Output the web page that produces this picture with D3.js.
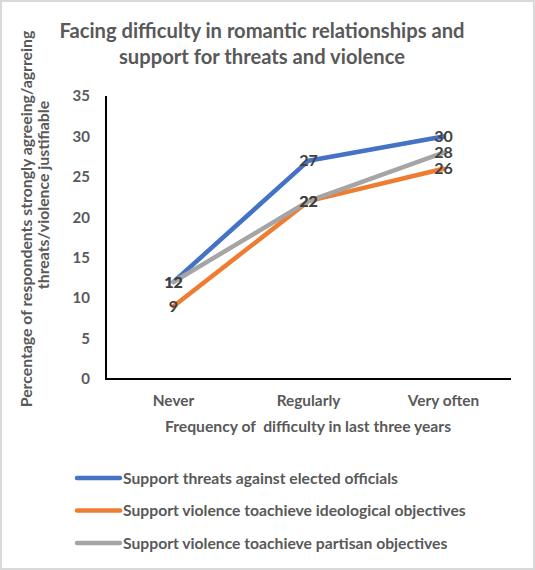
<!DOCTYPE html>
<html>
<head>
<meta charset="utf-8">
<script src="https://cdn.jsdelivr.net/npm/d3@7"></script>
<style>
  body { margin: 0; background: #fff; }
  svg text { font-family: Lato, "Open Sans", sans-serif; font-weight: bold; }
</style>
</head>
<body>
<svg id="chart" width="535" height="570"></svg>
<script>
"use strict";

var categories = ["Never", "Regularly", "Very often"];
var seriesNames = [
  "Support threats against elected officials",
  "Support violence toachieve ideological objectives",
  "Support violence toachieve partisan objectives"
];
var threatsValues = [12, 27, 30];
var ideologicalValues = [9, 22, 26];
var partisanValues = [12, 22, 28];
var seriesColors = ["#4472C4", "#ED7D31", "#A5A5A5"];
var yTicks = [0, 5, 10, 15, 20, 25, 30, 35];

var titleLines = ["Facing difficulty in romantic relationships and", "support for threats and violence"];
var yTitleLines = ["Percentage of respondents strongly agreeing/agrreing", "threats/violence justifiable"];
var xTitle = "Frequency of  difficulty in last three years";

var TEXT_COLOR = "#595959";
var LABEL_COLOR = "#404040";

var svg = d3.select("#chart");

// outer frame
svg.append("rect")
  .attr("x", 1).attr("y", 1)
  .attr("width", 533).attr("height", 568)
  .attr("fill", "#fff")
  .attr("stroke", "#d9d9d9")
  .attr("stroke-width", 2);

svg.selectAll("text.title")
  .data(titleLines)
  .enter()
  .append("text")
  .attr("class", "title")
  .attr("x", 262)
  .attr("y", function (d, i) { return 38 + i * 26; })
  .attr("text-anchor", "middle")
  .attr("font-size", 20.2)
  .attr("fill", TEXT_COLOR)
  .text(function (d) { return d; });

var x = d3.scalePoint().domain(categories).range([106, 511]).padding(0.5);
var y = d3.scaleLinear().domain([0, 35]).range([379, 96]);

// y tick labels
svg.append("g")
  .selectAll("text")
  .data(yTicks)
  .enter()
  .append("text")
  .attr("x", 90)
  .attr("y", function (d) { return y(d); })
  .attr("dy", "0.35em")
  .attr("text-anchor", "end")
  .attr("font-size", 15)
  .attr("fill", TEXT_COLOR)
  .text(function (d) { return d; });

// category labels
svg.append("g")
  .selectAll("text")
  .data(categories)
  .enter()
  .append("text")
  .attr("x", function (d) { return x(d); })
  .attr("y", 406)
  .attr("text-anchor", "middle")
  .attr("font-size", 15.4)
  .attr("fill", TEXT_COLOR)
  .text(function (d) { return d; });

svg.append("text")
  .attr("x", 308)
  .attr("y", 432)
  .attr("text-anchor", "middle")
  .attr("font-size", 15.7)
  .attr("fill", TEXT_COLOR)
  .attr("xml:space", "preserve")
  .style("white-space", "pre")
  .text(xTitle);

// y title, two rotated lines (centres)
var yTitleCentres = [219, 195];
svg.append("g")
  .selectAll("text")
  .data(yTitleLines)
  .enter()
  .append("text")
  .attr("transform", function (d, i) { return "translate(0," + yTitleCentres[i] + ") rotate(-90)"; })
  .attr("x", 0)
  .attr("y", function (d, i) { return 32 + i * 17; })
  .attr("text-anchor", "middle")
  .attr("font-size", 15.8)
  .attr("fill", TEXT_COLOR)
  .text(function (d) { return d; });

// axes lines
svg.append("line")
  .attr("x1", 106).attr("x2", 106)
  .attr("y1", y(35)).attr("y2", y(0) + 1)
  .attr("stroke", "#000").attr("stroke-width", 2);
svg.append("line")
  .attr("x1", 105).attr("x2", 511)
  .attr("y1", y(0)).attr("y2", y(0))
  .attr("stroke", "#000").attr("stroke-width", 2);

var allSeries = [threatsValues, ideologicalValues, partisanValues];

var line = d3.line()
  .x(function (d, i) { return x(categories[i]); })
  .y(function (d) { return y(d); });

svg.append("g")
  .selectAll("path")
  .data(allSeries)
  .enter()
  .append("path")
  .attr("d", line)
  .attr("fill", "none")
  .attr("stroke", function (d, i) { return seriesColors[i]; })
  .attr("stroke-width", 4.5)
  .attr("stroke-linecap", "round")
  .attr("stroke-linejoin", "round");

// data labels sit centred on the points
svg.append("g")
  .selectAll("g")
  .data(allSeries)
  .enter()
  .append("g")
  .each(function (values) {
    d3.select(this).selectAll("text")
      .data(values)
      .enter()
      .append("text")
      .attr("x", function (d, i) { return x(categories[i]); })
      .attr("y", function (d) { return y(d); })
      .attr("dy", "0.35em")
      .attr("text-anchor", "middle")
      .attr("font-size", 16)
      .attr("fill", LABEL_COLOR)
      .text(function (d) { return d; });
  });

// legend
var legend = svg.append("g")
  .selectAll("g")
  .data(seriesNames)
  .enter()
  .append("g")
  .attr("transform", function (d, i) { return "translate(0," + (478 + i * 32.5) + ")"; });

legend.append("line")
  .attr("x1", 77).attr("x2", 120)
  .attr("y1", 0).attr("y2", 0)
  .attr("stroke", function (d, i) { return seriesColors[i]; })
  .attr("stroke-width", 4.5)
  .attr("stroke-linecap", "round");

legend.append("text")
  .attr("x", 123)
  .attr("y", 0)
  .attr("dy", "0.35em")
  .attr("font-size", 15.7)
  .attr("fill", TEXT_COLOR)
  .text(function (d) { return d; });
</script>
</body>
</html>
